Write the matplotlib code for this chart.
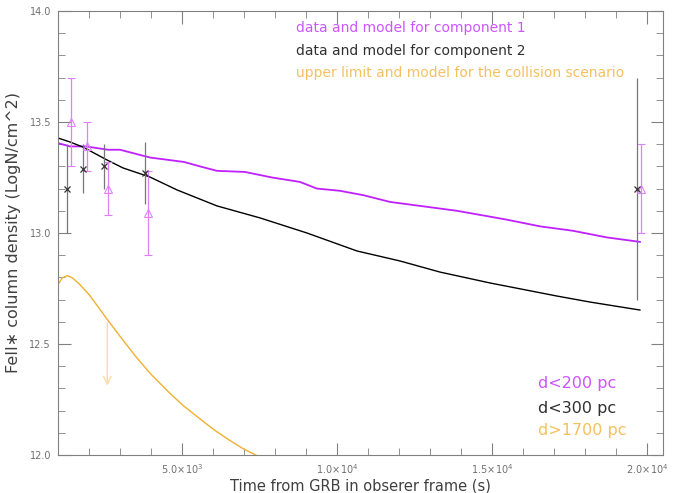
import matplotlib
matplotlib.use('Agg')
import matplotlib.pyplot as plt
from matplotlib.ticker import MultipleLocator, FuncFormatter
import numpy as np

# observed FeII* columns, component 1
t_c1 = [1410, 1925, 2610, 3910, 19800]
n_c1 = [13.50, 13.39, 13.20, 13.09, 13.20]
e_c1 = [0.20, 0.11, 0.12, 0.19, 0.20]

# observed FeII* columns, component 2
t_c2 = [1300, 1800, 2480, 3800, 19680]
n_c2 = [13.20, 13.29, 13.30, 13.27, 13.20]
e_c2 = [0.20, 0.11, 0.10, 0.14, 0.50]

# model for component 1 (d<200 pc)
tm1 = [1000, 1387, 1903, 2613, 3000, 3968, 4516, 5065, 5581, 6129, 7032,
       7903, 8806, 9355, 10100, 10860, 11710, 13871, 15484, 16548, 17613,
       18710, 19774]
nm1 = [13.405, 13.39, 13.39, 13.375, 13.375, 13.34, 13.33, 13.32, 13.30,
       13.28, 13.275, 13.25, 13.23, 13.20, 13.19, 13.17, 13.14, 13.10, 13.06,
       13.03, 13.01, 12.98, 12.96]

# model for component 2 (d<300 pc)
tm2 = [1000, 1387, 1806, 2581, 3097, 3968, 4839, 6129, 7516, 9032, 10645,
       12032, 13323, 14935, 17097, 18161, 19774]
nm2 = [13.428, 13.41, 13.387, 13.329, 13.293, 13.252, 13.194, 13.122,
       13.068, 13.0, 12.919, 12.874, 12.824, 12.775, 12.716, 12.689, 12.653]

# collision scenario model (d>1700 pc) and upper limit
tm3 = [1000, 1140, 1300, 1462, 1677, 2000, 2323, 2591, 3000, 3505, 4011,
       4581, 5011, 5548, 6000, 6516, 7000, 7376, 8000]
nm3 = [12.768, 12.798, 12.808, 12.798, 12.772, 12.723, 12.662, 12.610,
       12.535, 12.444, 12.362, 12.282, 12.226, 12.166, 12.117, 12.068,
       12.026, 12.0, 11.955]
t_ul = 2591
n_ul = 12.61
n_ul_end = 12.30

c_mag = '#c020ff'
c_mag_lt = '#e080ff'
c_org = '#f0b030'
c_grey = '#808080'

fig = plt.figure(figsize=(6.79, 4.93), dpi=100)
ax = fig.add_axes([0.0854, 0.0771, 0.8911, 0.9006])

ax.plot(tm1, nm1, color=c_mag, lw=1.3)
ax.plot(tm2, nm2, color='black', lw=1.0)
ax.plot(tm3, nm3, color=c_org, lw=1.0)

ax.errorbar(t_c1, n_c1, yerr=e_c1, fmt='^', mfc='none', mec=c_mag_lt,
            ecolor=c_mag_lt, ms=6, mew=0.8, elinewidth=0.9, capsize=3)
ax.errorbar(t_c2, n_c2, yerr=e_c2, fmt='x', color='#333333',
            ecolor='#777777', ms=5, mew=0.9, elinewidth=0.9, capsize=0)

ax.annotate('', xy=(t_ul, n_ul_end), xytext=(t_ul, n_ul),
            arrowprops=dict(arrowstyle='->', color='#f8dcb0', lw=1.0,
                            mutation_scale=14))

ax.set_xlim(1000, 20520)
ax.set_ylim(12.0, 14.0)

def sci(v, pos):
    if v <= 0:
        return ''
    e = int(np.floor(np.log10(v)))
    return r'$%.1f\!\times\!10^{%d}$' % (v / 10**e, e)

ax.xaxis.set_major_locator(MultipleLocator(5000))
ax.xaxis.set_minor_locator(MultipleLocator(1000))
ax.xaxis.set_major_formatter(FuncFormatter(sci))
ax.yaxis.set_major_locator(MultipleLocator(0.5))
ax.yaxis.set_minor_locator(MultipleLocator(0.1))
ax.yaxis.set_major_formatter(FuncFormatter(lambda v, p: '%.1f' % v))

ax.tick_params(which='both', direction='in', top=True, right=True,
               color=c_grey, labelcolor='#707070', labelsize=7)
ax.tick_params(which='major', length=9, pad=5)
ax.tick_params(which='minor', length=5)
for s in ax.spines.values():
    s.set_color(c_grey)

ax.set_xlabel('Time from GRB in obserer frame (s)', fontsize=10.5,
              color='#404040', labelpad=2)
ax.set_ylabel('FeII\u2217 column density (LogN/cm^2)', fontsize=11.5,
              color='#404040', labelpad=6)

ax.text(0.3934, 0.9617, 'data and model for component 1', transform=ax.transAxes,
        color='#cc55ff', fontsize=10, va='center')
ax.text(0.3934, 0.9099, 'data and model for component 2', transform=ax.transAxes,
        color='#303030', fontsize=10, va='center')
ax.text(0.3934, 0.8604, 'upper limit and model for the collision scenario',
        transform=ax.transAxes, color='#f5c060', fontsize=10, va='center')

ax.text(0.793, 0.162, 'd<200 pc', transform=ax.transAxes,
        color='#cc55ff', fontsize=11.5, va='center')
ax.text(0.793, 0.1036, 'd<300 pc', transform=ax.transAxes,
        color='#303030', fontsize=11.5, va='center')
ax.text(0.793, 0.0541, 'd>1700 pc', transform=ax.transAxes,
        color='#f5c060', fontsize=11.5, va='center')

plt.savefig('out.png', dpi=100)
